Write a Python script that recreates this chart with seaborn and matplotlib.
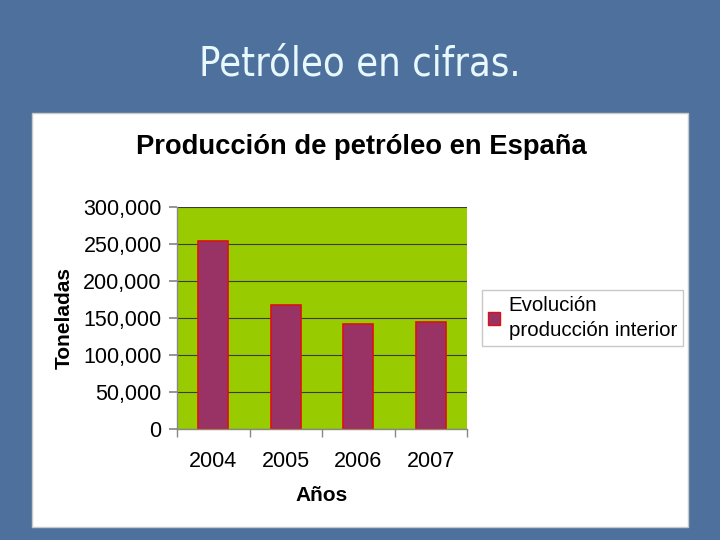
import matplotlib
matplotlib.use("Agg")
import matplotlib.pyplot as plt
import matplotlib.ticker as mticker
from matplotlib.patches import Rectangle, Patch
import seaborn as sns
import pandas as pd

years = ["2004", "2005", "2006", "2007"]
toneladas = [254000, 168000, 141500, 144500]
series_name = "Evolución\nproducción interior"

sns.set_theme(style="white")
plt.rcParams['font.family'] = ['Liberation Sans', 'DejaVu Sans']

fig = plt.figure(figsize=(7.2, 5.4), dpi=100)
fig.patch.set_facecolor("#4d719c")

# white chart panel
panel = Rectangle((32/720, 1-527/540), 656/720, 414/540,
                  transform=fig.transFigure, facecolor="white",
                  edgecolor="#c8c8c8", lw=1, zorder=-10)
fig.patches.append(panel)

fig.text(0.5, 1-64/540, "Petróleo en cifras.", ha="center", va="center",
         color="#e8f8ff", fontsize=28.5, family=["DejaVu Sans"],
         fontstretch="condensed", zorder=5)
fig.text(361/720, 1-147/540, "Producción de petróleo en España", ha="center",
         va="center", fontsize=19.7, fontweight="bold", color="black", zorder=5)

ax = fig.add_axes([177/720, 1-429/540, 290/720, 222/540], zorder=2)
df = pd.DataFrame({"Año": years, "Toneladas": toneladas})
sns.barplot(data=df, x="Año", y="Toneladas", ax=ax, color="#993366",
            edgecolor="#dd1111", linewidth=1.2, width=0.42, saturation=1)

ax.set_facecolor("#99cc00")
ax.set_ylim(0, 300000)
ax.set_xlim(-0.5, 3.5)
ax.yaxis.set_major_locator(mticker.MultipleLocator(50000))
ax.yaxis.set_major_formatter(mticker.StrMethodFormatter("{x:,.0f}"))
ax.grid(axis="y", color="#3a3a3a", lw=0.8)
ax.set_axisbelow(True)
ax.tick_params(axis="y", which="major", left=True, length=6, color="#888888",
               labelsize=15.5, pad=5, labelcolor="black")
ax.tick_params(axis="x", which="major", length=0, labelsize=15.5, pad=16,
               labelcolor="black")
ax.set_xticks([-0.5, 0.5, 1.5, 2.5, 3.5], minor=True)
ax.tick_params(axis="x", which="minor", bottom=True, length=6, color="#888888")
for s in ["top", "right"]:
    ax.spines[s].set_visible(False)
for s in ["left", "bottom"]:
    ax.spines[s].set_color("#888888")
    ax.spines[s].set_linewidth(1)
ax.set_xlabel("Años", fontsize=15, fontweight="bold", labelpad=10, color="black")
ax.set_ylabel("Toneladas", fontsize=15, fontweight="bold", labelpad=7, color="black")

handle = Patch(facecolor="#993366", edgecolor="#dd1111", lw=1)
leg = fig.legend([handle], [series_name], loc="upper left",
                 bbox_to_anchor=(482/720, 1-290/540), borderaxespad=0,
                 fontsize=14.8, frameon=True, fancybox=False,
                 edgecolor="#bbbbbb", handlelength=0.6, handleheight=0.6,
                 handletextpad=0.4, borderpad=0.3, labelspacing=0.2)
leg.get_frame().set_linewidth(1)
leg.set_zorder(5)
for t in leg.get_texts():
    t.set_linespacing(1.4)
    t.set_color("black")

fig.savefig("out.png", dpi=100, facecolor=fig.get_facecolor())
